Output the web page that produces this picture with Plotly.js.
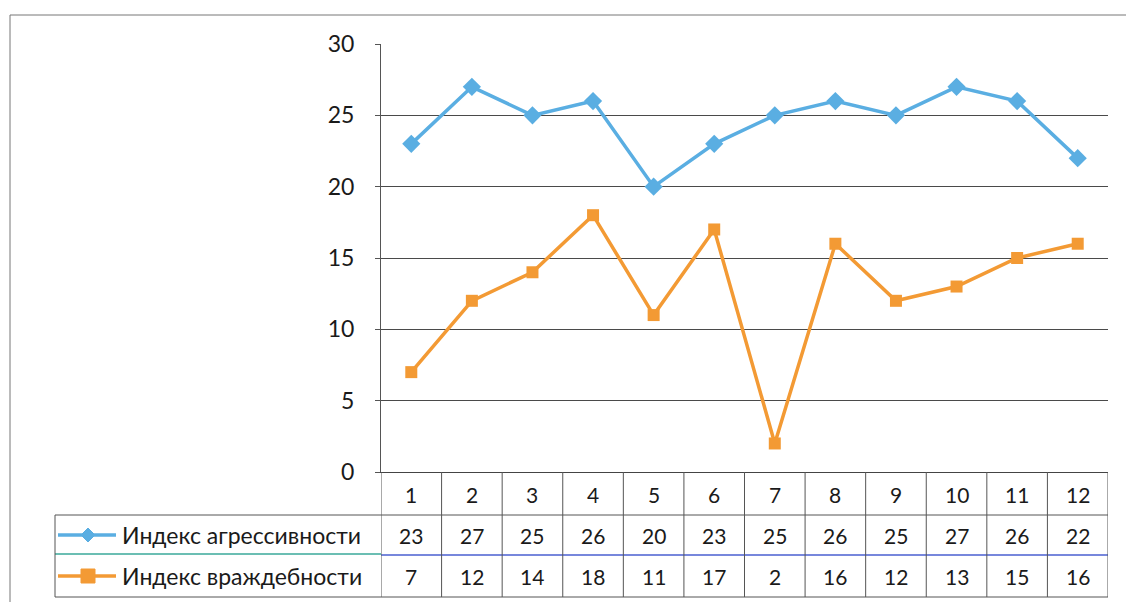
<!DOCTYPE html>
<html><head><meta charset="utf-8">
<script src="https://cdn.plot.ly/plotly-3.0.1.min.js"></script>
<style>body{margin:0;background:#fff}</style></head><body>
<div id="chart" style="width:1126px;height:602px"></div>
<script>
const categories = ['1','2','3','4','5','6','7','8','9','10','11','12'];
const aggression = [23,27,25,26,20,23,25,26,25,27,26,22];
const hostility = [7,12,14,18,11,17,2,16,12,13,15,16];
const seriesNames = ['Индекс агрессивности','Индекс враждебности'];
const yTicks = [0,5,10,15,20,25,30];

const W=1126,H=602,L=381,R=1108,T=44,B=472;
const fx = px => (px-L)/(R-L);
const fy = py => (B-py)/(B-T);
const xs = categories.map((c,i)=>i+1);
const FONT = 'Lato, "Open Sans", sans-serif';
const TXT = '#1a1a1a';
const blue = '#5AAEE2', orange = '#F39A34';
const grid = '#4a4a4a';

const traces = [
  {x: xs, y: aggression, name: seriesNames[0], type:'scatter', mode:'lines+markers',
   line:{color:blue,width:3.5}, marker:{symbol:'diamond',size:14,color:blue}, showlegend:false},
  {x: xs, y: hostility, name: seriesNames[1], type:'scatter', mode:'lines+markers',
   line:{color:orange,width:3.5}, marker:{symbol:'square',size:12,color:orange}, showlegend:false}
];

const rowY = [494, 535, 576];
const shapes = [];
const line = (x0,y0,x1,y1,color,width,xref) => shapes.push({type:'line', xref:xref||'paper', yref:'paper',
  x0:x0, x1:x1, y0:y0, y1:y1, line:{color:color||'#555', width:width||1}, layer:'above'});

// outer frame
line(fx(10), fy(15), fx(1126), fy(15), '#777', 1);
line(fx(10), fy(15), fx(10), fy(602), '#777', 1);
// table rows
line(fx(55), fy(515), fx(R), fy(515), '#555', 1);
line(fx(55), fy(554), fx(L), fy(554), '#3aa89a', 1.5);
line(fx(L), fy(555), fx(R), fy(555), '#4a5fd0', 1.5);
line(fx(55), fy(597), fx(R), fy(597), '#555', 1);
line(fx(55), fy(515), fx(55), fy(597), '#555', 1);
// column separators through the axis scale
for (let i=0;i<=categories.length;i++){
  line(i+0.5, fy(472), i+0.5, fy(597), '#555', 1, 'x');
}

const annotations = [];
const cell = (x, py, text) => annotations.push({x:x, xref:'x', y:fy(py), yref:'paper', text:text,
  xanchor:'center', yanchor:'middle', showarrow:false, font:{family:FONT,size:21,color:TXT}});
categories.forEach((c,i)=>{
  cell(i+1, rowY[0], c);
  cell(i+1, rowY[1], String(aggression[i]));
  cell(i+1, rowY[2], String(hostility[i]));
});
// legend keys inside table
const keyColors=[blue,orange];
seriesNames.forEach((n,k)=>{
  const yy = rowY[k+1];
  annotations.push({x:fx(120), xref:'paper', xanchor:'left', y:fy(yy), yref:'paper', yanchor:'middle',
    text:n, showarrow:false, font:{family:FONT,size:23,color:TXT}});
  line(fx(58), fy(yy), fx(116), fy(yy), keyColors[k], 3.5);
  if (k===0) {
    shapes.push({type:'path', xref:'paper', yref:'paper', xsizemode:'pixel', ysizemode:'pixel',
      xanchor:fx(88), yanchor:fy(yy), path:'M -7,0 L 0,7 L 7,0 L 0,-7 Z',
      fillcolor:blue, line:{color:blue,width:1}, layer:'above'});
  } else {
    shapes.push({type:'rect', xref:'paper', yref:'paper', xsizemode:'pixel', ysizemode:'pixel',
      xanchor:fx(88), yanchor:fy(yy), x0:-7, x1:7, y0:-7, y1:7,
      fillcolor:orange, line:{color:orange,width:1}, layer:'above'});
  }
});

const layout = {
  width:W, height:H, margin:{l:L, r:W-R, t:T, b:H-B},
  paper_bgcolor:'#fff', plot_bgcolor:'#fff',
  font:{family:FONT, size:21, color:TXT},
  xaxis:{range:[0.5,12.5], showticklabels:false, showgrid:false, zeroline:false,
    showline:true, linecolor:'#444', linewidth:1, ticks:''},
  yaxis:{range:[0,30], tickvals:yTicks, ticktext:yTicks.map(String), showgrid:true, gridcolor:grid, gridwidth:1,
    zeroline:false, showline:true, linecolor:'#555', linewidth:1, ticks:'outside', ticklen:5, tickcolor:'#555',
    ticklabelstandoff:16, tickfont:{family:FONT,size:23,color:TXT}},
  shapes:shapes, annotations:annotations, showlegend:false
};
Plotly.newPlot('chart', traces, layout, {displayModeBar:false, staticPlot:true});
</script></body></html>
